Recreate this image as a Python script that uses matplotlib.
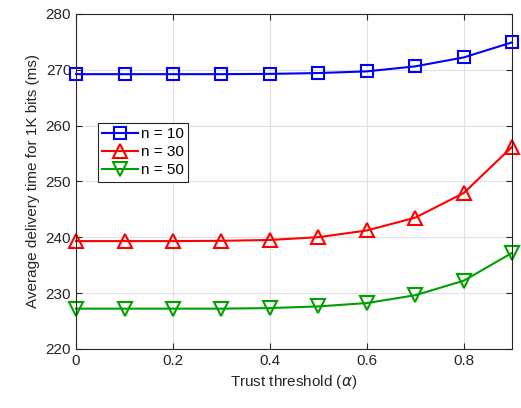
import matplotlib.pyplot as plt

plt.rcParams["font.family"] = ["Liberation Sans", "DejaVu Sans"]

alpha = [0, 0.1, 0.2, 0.3, 0.4, 0.5, 0.6, 0.7, 0.8, 0.9]
n10 = [269.2, 269.2, 269.2, 269.2, 269.25, 269.4, 269.7, 270.6, 272.2, 274.9]
n30 = [239.3, 239.3, 239.3, 239.35, 239.5, 240.0, 241.2, 243.5, 247.9, 256.2]
n50 = [227.2, 227.2, 227.2, 227.2, 227.3, 227.6, 228.2, 229.6, 232.2, 237.2]

fig = plt.figure(figsize=(5.21, 4.08), dpi=100)
ax = fig.add_axes([0.146, 0.145, 0.837, 0.821])

ax.plot(alpha, n10, color="#0000ff", marker="s", markersize=8, markerfacecolor="none",
        markeredgewidth=1.5, linewidth=1.5, label="n = 10", clip_on=False)
ax.plot(alpha, n30, color="#ff0000", marker="^", markersize=10, markerfacecolor="none",
        markeredgewidth=1.5, linewidth=1.5, label="n = 30", clip_on=False)
ax.plot(alpha, n50, color="#00a000", marker="v", markersize=10, markerfacecolor="none",
        markeredgewidth=1.5, linewidth=1.5, label="n = 50", clip_on=False)

ax.set_xlim(0, 0.9)
ax.set_ylim(220, 280)
ax.set_xticks([0, 0.2, 0.4, 0.6, 0.8])
ax.set_xticklabels(["0", "0.2", "0.4", "0.6", "0.8"])
ax.set_yticks(range(220, 281, 10))
ax.grid(True, color="#e0e0e0", linewidth=0.8)
ax.set_axisbelow(True)
for s in ax.spines.values():
    s.set_color("#262626")
    s.set_linewidth(0.8)
ax.tick_params(direction="in", length=4, colors="#262626", labelsize=11, top=True, right=True,
               labeltop=False, labelright=False)

ax.set_xlabel(r"Trust threshold ($\alpha$)", fontsize=11, color="#262626")
ax.set_ylabel("Average delivery time for 1K bits (ms)", fontsize=11, color="#262626")

leg = ax.legend(loc="upper left", bbox_to_anchor=(0.05, 0.675), fontsize=11, fancybox=False,
                framealpha=1, edgecolor="#262626", handlelength=2.3, borderpad=0.3,
                labelspacing=0.25, handletextpad=0.2, borderaxespad=0)
leg.get_frame().set_linewidth(0.8)

fig.savefig("out.png", dpi=100)
